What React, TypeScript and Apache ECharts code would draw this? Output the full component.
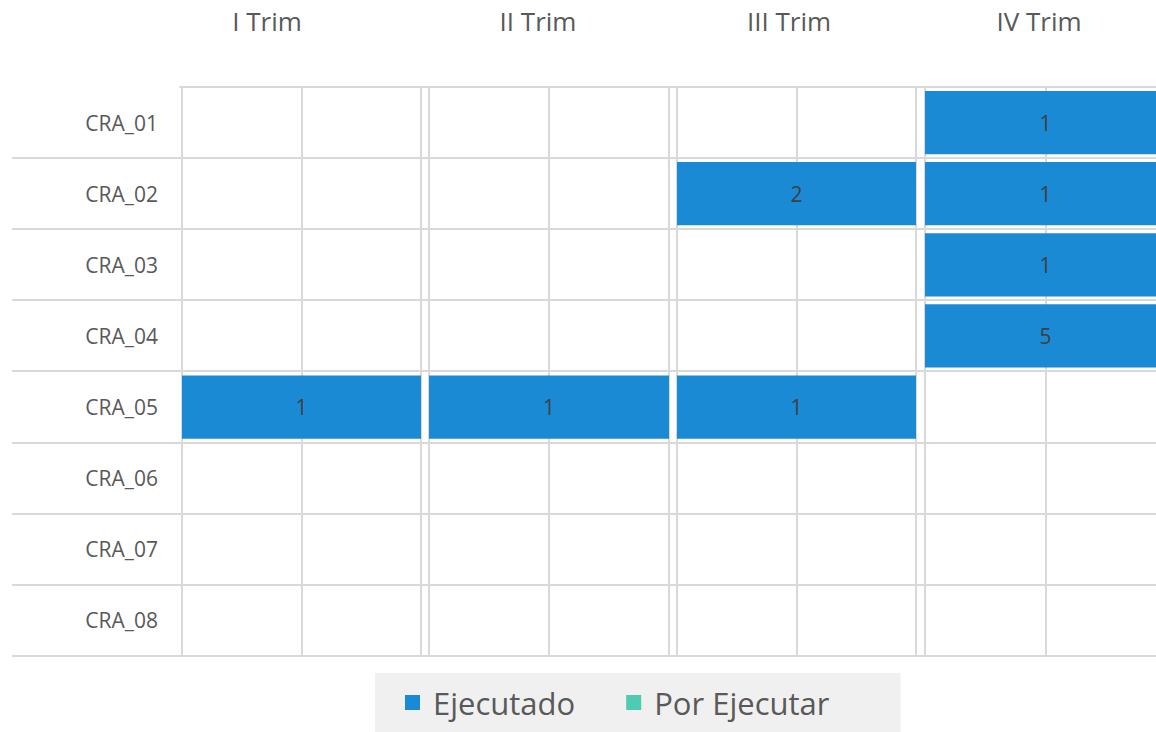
import React, { useEffect, useRef } from "react";
import * as echarts from "echarts";

const categories = ["CRA_01", "CRA_02", "CRA_03", "CRA_04", "CRA_05", "CRA_06", "CRA_07", "CRA_08"];
const quarters = ["I Trim", "II Trim", "III Trim", "IV Trim"];
const ejecutadoI = [0, 0, 0, 0, 1, 0, 0, 0];
const ejecutadoII = [0, 0, 0, 0, 1, 0, 0, 0];
const ejecutadoIII = [0, 2, 0, 0, 1, 0, 0, 0];
const ejecutadoIV = [1, 1, 1, 5, 0, 0, 0, 0];
const porEjecutarI = [0, 0, 0, 0, 0, 0, 0, 0];
const porEjecutarII = [0, 0, 0, 0, 0, 0, 0, 0];
const porEjecutarIII = [0, 0, 0, 0, 0, 0, 0, 0];
const porEjecutarIV = [0, 0, 0, 0, 0, 0, 0, 0];

const ejecutado = [ejecutadoI, ejecutadoII, ejecutadoIII, ejecutadoIV];
const porEjecutar = [porEjecutarI, porEjecutarII, porEjecutarIII, porEjecutarIV];

const BLUE = "#1a8ad4";
const TEAL = "#4ecbb0";
const GRID = "#d9d9d9";
const TEXT = "#595959";
const FONT = "'Open Sans', 'Noto Sans', sans-serif";

const panelLeft = [182, 429, 677, 925];
const panelWidth = [239, 240, 239, 241];
const titleX = [262, 533, 784, 1034];

export default function App() {
  const ref = useRef<HTMLDivElement>(null);
  useEffect(() => {
    document.body.style.overflow = "hidden";
    if (!ref.current) return;
    const chart = echarts.init(ref.current, null, { renderer: "svg" });

    const grids: any[] = [];
    const xAxes: any[] = [];
    const yAxes: any[] = [];
    const series: any[] = [];

    const labelCfg = {
      show: true,
      position: "inside",
      color: "#404040",
      fontSize: 21,
      fontFamily: FONT,
      formatter: (p: any) => (p.data && p.data.raw ? String(p.data.raw) : ""),
    };

    quarters.forEach((q, i) => {
      grids.push({ left: panelLeft[i], width: panelWidth[i], top: 87, bottom: 76 });
      xAxes.push({
        gridIndex: i,
        type: "value",
        min: 0,
        max: 1,
        interval: 0.5,
        axisLine: { show: false },
        axisTick: { show: false },
        axisLabel: { show: false },
        splitLine: { show: true, lineStyle: { color: GRID, width: 2 } },
      });
      yAxes.push({
        gridIndex: i,
        type: "category",
        data: categories,
        inverse: true,
        axisLine: { show: false },
        axisTick: { show: false },
        splitLine: { show: false },
        axisLabel: {
          show: i === 0,
          fontSize: 21,
          color: TEXT,
          fontFamily: FONT,
          margin: 24,
        },
      });
      const tot = categories.map((_, k) => ejecutado[i][k] + porEjecutar[i][k]);
      series.push({
        name: "Ejecutado",
        type: "bar",
        stack: "q" + i,
        xAxisIndex: i,
        yAxisIndex: i,
        barCategoryGap: "11%",
        itemStyle: { color: BLUE },
        data: categories.map((_, k) =>
          tot[k] > 0 ? { value: ejecutado[i][k] / tot[k], raw: ejecutado[i][k] } : null
        ),
        label: labelCfg,
      });
      series.push({
        name: "Por Ejecutar",
        type: "bar",
        stack: "q" + i,
        xAxisIndex: i,
        yAxisIndex: i,
        barCategoryGap: "11%",
        itemStyle: { color: TEAL },
        data: categories.map((_, k) =>
          tot[k] > 0 ? { value: porEjecutar[i][k] / tot[k], raw: porEjecutar[i][k] } : null
        ),
        label: labelCfg,
      });
    });

    // background row lines
    grids.push({ left: 12, right: 0, top: 86, bottom: 76 });
    xAxes.push({ gridIndex: 4, type: "value", show: false, min: 0, max: 1 });
    yAxes.push({
      gridIndex: 4,
      type: "category",
      data: categories,
      inverse: true,
      axisLine: { show: false },
      axisTick: { show: false },
      axisLabel: { show: false },
      splitLine: {
        show: true,
        interval: (idx: number) => idx !== 0,
        lineStyle: { color: GRID, width: 2 },
      },
    });
    // top line
    grids.push({ left: 180, right: 0, top: 86, height: 1 });
    xAxes.push({
      gridIndex: 5,
      type: "value",
      position: "top",
      min: 0,
      max: 1,
      axisLine: { show: true, lineStyle: { color: GRID, width: 2 } },
      axisTick: { show: false },
      axisLabel: { show: false },
      splitLine: { show: false },
    });
    yAxes.push({ gridIndex: 5, type: "value", show: false });

    chart.setOption({
      animation: false,
      backgroundColor: "#ffffff",
      title: quarters.map((q, i) => ({
        text: q,
        left: titleX[i],
        top: 3,
        textAlign: "center",
        textStyle: { fontSize: 26, fontWeight: "normal", color: TEXT, fontFamily: FONT },
      })),
      legend: {
        data: [
          { name: "Ejecutado", icon: "rect" },
          { name: "Por Ejecutar", icon: "rect" },
        ],
        left: 375,
        top: 673,
        backgroundColor: "#f0f0f0",
        padding: [14, 71, 18, 30],
        itemWidth: 15,
        itemHeight: 15,
        itemGap: 51,
        textStyle: { fontSize: 31, color: TEXT, fontFamily: FONT, padding: [0, 0, 0, 8] },
      },
      grid: grids,
      xAxis: xAxes,
      yAxis: yAxes,
      series,
    });
    return () => chart.dispose();
  }, []);
  return (
    <div
      ref={ref}
      style={{ position: "fixed", left: 0, top: 0, width: 1170, height: 732 }}
    />
  );
}
